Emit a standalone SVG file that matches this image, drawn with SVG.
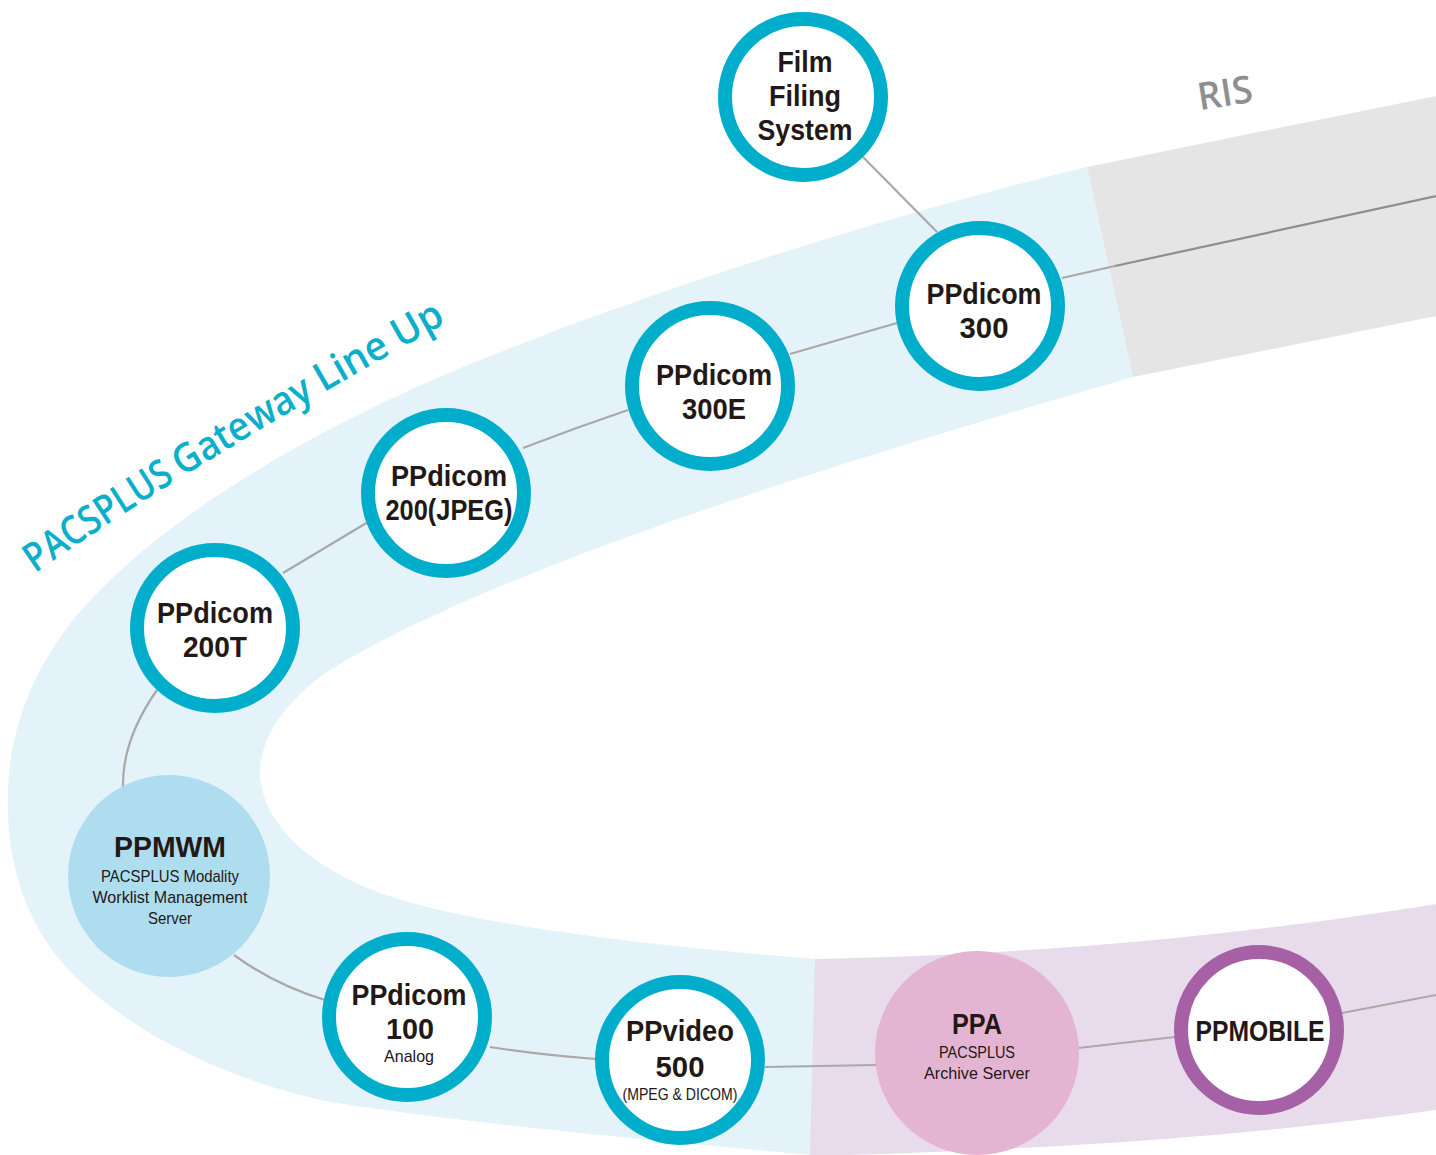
<svg xmlns="http://www.w3.org/2000/svg" width="1436" height="1155" viewBox="0 0 1436 1155">
<defs>
<style>
.ring{fill:#fff;stroke:#00AECB;stroke-width:14}
.ringp{fill:#fff;stroke:#A661A6;stroke-width:14}
.t{font-family:"Liberation Sans",Arial,sans-serif;font-weight:700;font-size:30px;fill:#231815;text-anchor:middle}
.s{font-family:"Liberation Sans",Arial,sans-serif;font-weight:400;font-size:17px;fill:#231815;text-anchor:middle}
.c{fill:none;stroke:#A9A9A9;stroke-width:2.2}
.gw{font-family:"Open Sans","Liberation Sans",sans-serif;font-weight:600;font-size:40px;fill:#0AAFCB}
</style>
<path id="gwpath" d="M20,584 Q180,470 466,312" fill="none"/>
</defs>
<rect width="1436" height="1155" fill="#fff"/>
<g id="bands">
<path id="band-gateway" fill="#E4F2F9" d="M1087,167 C900,212 650,290 463,367 C330,422 190,500 100,590 C40,650 10,720 8,790 C5,870 30,940 90,990 C160,1050 250,1085 330,1102 C480,1125 650,1140 812,1155 L816,959 C650,946 470,925 380,893 C300,862 265,820 260,778 C258,740 285,700 330,670 C460,590 720,495 1133,377 Z"/>
<path id="band-archive" fill="#E8DCEC" d="M815,959 C1000,955 1200,942 1436,904 L1436,1110 C1250,1136 1050,1150 810,1156 Z"/>
<path id="band-ris" fill="#E5E5E5" d="M1087,167 L1436,96 L1436,316 L1133,377 Z"/>
</g>
<text x="1227" y="106" transform="rotate(-9 1227 106)" font-family="'Open Sans','Liberation Sans',sans-serif" font-weight="600" font-size="38" fill="#8F8F8F" text-anchor="middle" textLength="55" lengthAdjust="spacingAndGlyphs">RIS</text>
<g id="gateway-label">
<text class="gw"><textPath href="#gwpath" startOffset="19" textLength="168" lengthAdjust="spacingAndGlyphs">PACSPLUS</textPath></text>
<text class="gw"><textPath href="#gwpath" startOffset="195" textLength="155" lengthAdjust="spacingAndGlyphs">Gateway</textPath></text>
<text class="gw"><textPath href="#gwpath" startOffset="359" textLength="142" lengthAdjust="spacingAndGlyphs">Line Up</textPath></text>
</g>
<g id="connectors">
<path class="c" d="M1062,278 L1115,266"/>
<path d="M1115,266 L1436,196" fill="none" stroke="#8E8E8E" stroke-width="2.2"/>
<path class="c" d="M863,157 L937,232"/>
<path class="c" d="M897,323 L790,354"/>
<path class="c" d="M628,410 Q575,428 523,448"/>
<path class="c" d="M368,522 L283,573"/>
<path class="c" d="M157,690 Q122,740 123,787"/>
<path class="c" d="M234,955 Q275,985 325,1000"/>
<path class="c" d="M490,1047 Q540,1055 596,1059"/>
<path class="c" d="M765,1067 L876,1065"/>
<path class="c" d="M1078,1048 L1175,1037"/>
<path class="c" d="M1342,1013 L1436,995"/>
</g>
<g id="film-filing-system">
<circle class="ring" cx="803" cy="97" r="78"/>
<text class="t" x="805" y="72" textLength="55" lengthAdjust="spacingAndGlyphs">Film</text>
<text class="t" x="805" y="106" textLength="72" lengthAdjust="spacingAndGlyphs">Filing</text>
<text class="t" x="805" y="140" textLength="95" lengthAdjust="spacingAndGlyphs">System</text>
</g>
<g id="ppdicom-300">
<circle class="ring" cx="980" cy="306" r="78"/>
<text class="t" x="984" y="304" textLength="115" lengthAdjust="spacingAndGlyphs">PPdicom</text>
<text class="t" x="984" y="338" textLength="49" lengthAdjust="spacingAndGlyphs">300</text>
</g>
<g id="ppdicom-300e">
<circle class="ring" cx="710" cy="386" r="78"/>
<text class="t" x="714" y="385" textLength="116" lengthAdjust="spacingAndGlyphs">PPdicom</text>
<text class="t" x="714" y="419" textLength="64" lengthAdjust="spacingAndGlyphs">300E</text>
</g>
<g id="ppdicom-200jpeg">
<circle class="ring" cx="446" cy="493" r="78"/>
<text class="t" x="449" y="486" textLength="116" lengthAdjust="spacingAndGlyphs">PPdicom</text>
<text class="t" x="449" y="520" textLength="127" lengthAdjust="spacingAndGlyphs">200(JPEG)</text>
</g>
<g id="ppdicom-200t">
<circle class="ring" cx="215" cy="628" r="78"/>
<text class="t" x="215" y="623" textLength="116" lengthAdjust="spacingAndGlyphs">PPdicom</text>
<text class="t" x="215" y="657" textLength="64" lengthAdjust="spacingAndGlyphs">200T</text>
</g>
<g id="ppmwm">
<circle cx="169" cy="876" r="101" fill="#AEDDEF"/>
<text class="t" x="170" y="857" textLength="112" lengthAdjust="spacingAndGlyphs">PPMWM</text>
<text class="s" x="170" y="882" textLength="138" lengthAdjust="spacingAndGlyphs">PACSPLUS Modality</text>
<text class="s" x="170" y="903" textLength="155" lengthAdjust="spacingAndGlyphs">Worklist Management</text>
<text class="s" x="170" y="924" textLength="44" lengthAdjust="spacingAndGlyphs">Server</text>
</g>
<g id="ppdicom-100">
<circle class="ring" cx="407" cy="1017" r="78"/>
<text class="t" x="409" y="1005" textLength="115" lengthAdjust="spacingAndGlyphs">PPdicom</text>
<text class="t" x="410" y="1039" textLength="48" lengthAdjust="spacingAndGlyphs">100</text>
<text class="s" x="409" y="1062" textLength="50" lengthAdjust="spacingAndGlyphs">Analog</text>
</g>
<g id="ppvideo-500">
<circle class="ring" cx="680" cy="1060" r="78"/>
<text class="t" x="680" y="1041" textLength="108" lengthAdjust="spacingAndGlyphs">PPvideo</text>
<text class="t" x="680" y="1077" textLength="49" lengthAdjust="spacingAndGlyphs">500</text>
<text class="s" x="680" y="1100" font-size="16" textLength="115" lengthAdjust="spacingAndGlyphs">(MPEG &amp; DICOM)</text>
</g>
<g id="ppa">
<circle cx="977" cy="1053" r="102" fill="#E3B5D3"/>
<text class="t" x="977" y="1034" textLength="50" lengthAdjust="spacingAndGlyphs">PPA</text>
<text class="s" x="977" y="1058" textLength="76" lengthAdjust="spacingAndGlyphs">PACSPLUS</text>
<text class="s" x="977" y="1079" textLength="106" lengthAdjust="spacingAndGlyphs">Archive Server</text>
</g>
<g id="ppmobile">
<circle class="ringp" cx="1259" cy="1030" r="78"/>
<text class="t" x="1260" y="1041" textLength="129" lengthAdjust="spacingAndGlyphs">PPMOBILE</text>
</g>
</svg>
